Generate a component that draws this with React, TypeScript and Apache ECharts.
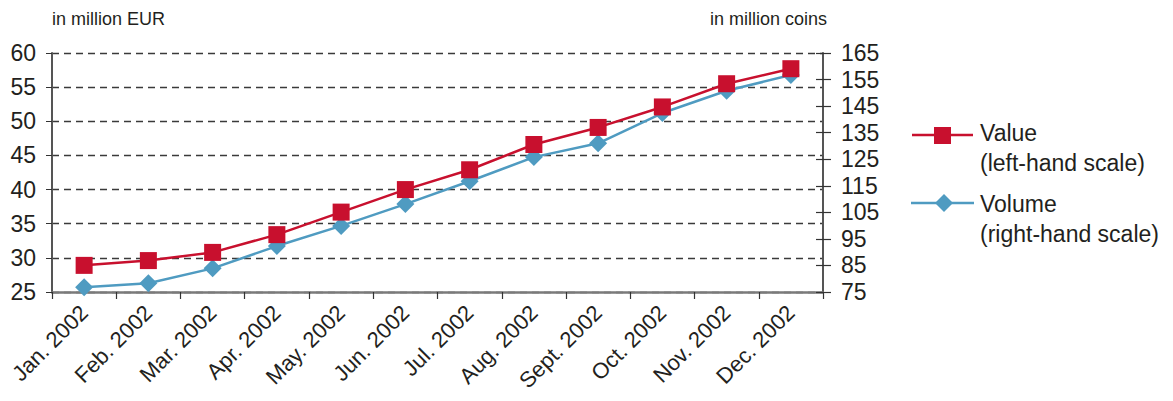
import React, { useEffect, useRef } from "react";
import * as echarts from "echarts";

const categories = ["Jan. 2002", "Feb. 2002", "Mar. 2002", "Apr. 2002", "May. 2002", "Jun. 2002", "Jul. 2002", "Aug. 2002", "Sept. 2002", "Oct. 2002", "Nov. 2002", "Dec. 2002"];
const valueSeries = [28.9, 29.6, 30.8, 33.4, 36.7, 40.0, 42.9, 46.6, 49.1, 52.1, 55.5, 57.7];
const volumeSeries = [76.8, 78.3, 83.9, 92.3, 99.9, 108.1, 116.7, 125.8, 131.0, 142.4, 150.8, 156.7];
const leftTitle = "in million EUR";
const rightTitle = "in million coins";
const legendNames = ["Value", "(left-hand scale)", "Volume", "(right-hand scale)"];

const RED = "#c8102e";
const BLUE = "#4f9bc1";
const TEXT = "#231f20";
const FONT = "Liberation Sans, Arial, sans-serif";

export default function App() {
  const ref = useRef<HTMLDivElement>(null);
  useEffect(() => {
    document.body.style.margin = "0";
    const chart = echarts.init(ref.current!, null, { renderer: "svg" });
    chart.setOption({
      animation: false,
      backgroundColor: "#ffffff",
      textStyle: { fontFamily: FONT, color: TEXT },
      grid: { left: 52, right: 350, top: 53, bottom: 109 },
      xAxis: {
        type: "category",
        data: categories,
        boundaryGap: true,
        axisLine: { show: true, lineStyle: { color: "#7a7a7a", width: 2.5 } },
        axisTick: { show: true, length: 7, lineStyle: { color: "#333", width: 1.2 } },
        axisLabel: { rotate: 45, fontSize: 22, color: TEXT, fontFamily: FONT, margin: 17, interval: 0 },
      },
      yAxis: [
        {
          type: "value",
          min: 25,
          max: 60,
          interval: 5,
          position: "left",
          axisLine: { show: true, lineStyle: { color: "#555", width: 2 } },
          axisTick: { show: true, length: 6, lineStyle: { color: "#333" } },
          axisLabel: { fontSize: 23, color: TEXT, fontFamily: FONT, margin: 16 },
          splitLine: { show: true, lineStyle: { color: "#3a3a3a", type: [7, 5], width: 1.3 } },
        },
        {
          type: "value",
          min: 75,
          max: 165,
          interval: 10,
          position: "right",
          axisLine: { show: true, lineStyle: { color: "#555", width: 2 } },
          axisTick: { show: true, length: 8, lineStyle: { color: "#333", width: 1.2 } },
          axisLabel: { fontSize: 23, color: TEXT, fontFamily: FONT, margin: 18 },
          splitLine: { show: false },
        },
        {
          type: "value",
          min: 75,
          max: 165,
          interval: 10,
          position: "right",
          axisLine: { show: false },
          axisTick: { show: true, inside: true, length: 7, lineStyle: { color: "#333", width: 1.2 } },
          axisLabel: { show: false },
          splitLine: { show: false },
        },
      ],
      series: [
        {
          name: "Volume",
          type: "line",
          yAxisIndex: 1,
          data: volumeSeries,
          symbol: "diamond",
          symbolSize: 18,
          itemStyle: { color: BLUE },
          lineStyle: { color: BLUE, width: 2.5 },
          z: 2,
        },
        {
          name: "Value",
          type: "line",
          yAxisIndex: 0,
          data: valueSeries,
          symbol: "rect",
          symbolSize: 17,
          itemStyle: { color: RED },
          lineStyle: { color: RED, width: 2.5 },
          z: 3,
        },
      ],
      graphic: [
        { type: "text", left: 52, top: 10, style: { text: leftTitle, font: `18px ${FONT}`, fill: TEXT } },
        { type: "text", right: 346, top: 10, style: { text: rightTitle, font: `18px ${FONT}`, fill: TEXT } },
        { type: "line", shape: { x1: 912, y1: 135, x2: 973, y2: 135 }, style: { stroke: RED, lineWidth: 2.5 } },
        { type: "rect", shape: { x: 934, y: 127, width: 17, height: 17 }, style: { fill: RED } },
        { type: "text", x: 980, y: 121, style: { text: legendNames[0], font: `23px ${FONT}`, fill: TEXT } },
        { type: "text", x: 980, y: 151, style: { text: legendNames[1], font: `23px ${FONT}`, fill: TEXT } },
        { type: "line", shape: { x1: 911, y1: 203, x2: 974, y2: 203 }, style: { stroke: BLUE, lineWidth: 2.5 } },
        { type: "polygon", shape: { points: [[944, 194], [953, 203], [944, 212], [935, 203]] }, style: { fill: BLUE } },
        { type: "text", x: 980, y: 192, style: { text: legendNames[2], font: `23px ${FONT}`, fill: TEXT } },
        { type: "text", x: 980, y: 222, style: { text: legendNames[3], font: `23px ${FONT}`, fill: TEXT } },
      ],
    });
    return () => chart.dispose();
  }, []);
  return <div ref={ref} style={{ width: 1173, height: 401 }} />;
}
